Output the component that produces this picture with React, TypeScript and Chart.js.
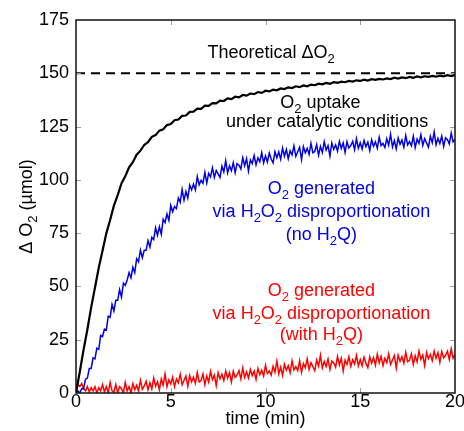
import { useEffect, useRef } from "react";
import { Chart, registerables } from "chart.js";

Chart.register(...registerables);

// ---- axis ranges / ticks ----
const X_MIN = 0;
const X_MAX = 20;
const X_STEP = 5;
const Y_MIN = 0;
const Y_MAX = 175;
const Y_STEP = 25;

// sampling intervals of the recorded traces (min)
const BLACK_DT = 0.2;
const COLOR_DT = 0.1;

// O2 uptake under catalytic conditions (µmol), every 0.2 min from 0 to 20
const uptakeCatalytic = [
  0, 10, 20.3, 29.8, 40.2, 49.4, 58.8, 66.7, 74.9, 81.2,
  87.9, 92.8, 98.3, 101.7, 105.9, 108.3, 111.8, 113.7, 116.4, 117.7,
  120.2, 121.0, 123.1, 123.7, 125.7, 126.2, 128.0, 128.3, 130.0, 130.2,
  131.9, 132.0, 133.4, 133.3, 134.8, 134.7, 136.0, 135.9, 137.2, 137.0,
  138.2, 137.9, 139.0, 138.7, 139.8, 139.5, 140.5, 140.2, 141.2, 140.8,
  141.8, 141.5, 142.3, 142.0, 142.9, 142.6, 143.4, 143.1, 143.9, 143.5,
  144.3, 143.9, 144.7, 144.4, 145.1, 144.8, 145.5, 145.1, 145.8, 145.5,
  146.1, 145.8, 146.4, 146.1, 146.7, 146.4, 147.0, 146.6, 147.2, 146.9,
  147.4, 147.1, 147.6, 147.3, 147.9, 147.5, 148.1, 147.7, 148.3, 147.9,
  148.5, 148.1, 148.6, 148.3, 148.8, 148.4, 148.9, 148.6, 149.1, 148.7,
  149.2,
];

// O2 generated via H2O2 disproportionation, no H2Q (µmol), every 0.1 min
const generatedNoH2Q = [
  0, 1, 0, 2, 2, 6.5, 7, 11.5, 11.5, 16.5,
  16, 21, 20.5, 27, 26.5, 30, 29.5, 36, 35.5, 41.5,
  38.5, 43.5, 43.5, 48.5, 45, 51.5, 50.5, 53, 56.5, 54,
  59, 56.5, 63, 61.5, 67, 63.5, 67, 67, 71.5, 68.5,
  73, 72, 77.5, 74, 78, 74.5, 81.5, 80, 84, 81,
  88, 85, 87.5, 86.5, 91.5, 89.5, 95.5, 90.5, 94.5, 91.5,
  97.5, 95.3, 98, 95.3, 101.5, 97.7, 99.8, 98.4, 103.5, 98.5,
  103, 101.4, 105.7, 101.1, 104.4, 102.8, 101.1, 106.4, 103.7, 109,
  103.3, 106.6, 104.3, 108.1, 103.4, 107.6, 106.9, 105.1, 110.4, 106.6,
  109.9, 104.1, 109.4, 107.6, 111.4, 107.1, 110.3, 108.5, 112.8, 108,
  111.2, 108.4, 112.6, 109.8, 108, 113.2, 110.4, 113.1, 109.7, 114.9,
  111.1, 114.3, 109.9, 113.6, 111.7, 115.9, 111, 113.2, 115.3, 109.5,
  115.6, 112.7, 114.8, 112, 117.1, 112.7, 113.3, 116.5, 111.6, 115.7,
  112.8, 117.9, 114, 116.1, 111.2, 117.3, 114.3, 116.4, 113.5, 118.1,
  114.7, 117.3, 112.9, 117.9, 115, 116.1, 118.1, 114.2, 119.3, 114.8,
  117.4, 114.5, 118.5, 115.6, 117.7, 113.7, 118.8, 115.8, 117.9, 114.9,
  120, 116.1, 117.1, 115.2, 119.3, 116.3, 121.4, 115.4, 118.5, 114.5,
  119.6, 116.7, 118.7, 115.3, 120.8, 116.4, 117.9, 116, 120.5, 115.1,
  119.1, 117.1, 121.2, 116.2, 119.3, 117.3, 115.3, 120.4, 117.4, 122.5,
  116.5, 119.5, 117.1, 120.6, 115.7, 119.7, 118.8, 116.8, 121.9, 117.9,
  119,
];

// O2 generated via H2O2 disproportionation, with H2Q (µmol), every 0.1 min
const generatedWithH2Q = [
  1, 4, 3, 4.5, 2, 1, 3, 0.5, 2.5, 1,
  3, 0, 2.5, 1, 4, 0.5, 3, 0, 5, 1,
  0.5, 4, 0, 3, 2, 0, 5, 1, 3, 0,
  4.3, 1.5, 3.7, 0.9, 6, 1.7, 3.3, 5.5, 1.6, 4.8,
  1.9, 7, 3.2, 5.3, 1.5, 6.6, 3.7, 8.9, 3, 6.2,
  4.3, 7.4, 3, 6.6, 4.7, 8.8, 3.9, 6, 8, 3.1,
  8.2, 5.3, 7.4, 4.5, 9.6, 5.2, 5.8, 8.9, 3.9, 8,
  5.1, 10.2, 6.3, 8.4, 3.5, 9.6, 6.7, 8.8, 5.8, 10.4,
  7, 9.6, 5.2, 10.2, 7.3, 8.4, 10.5, 6.6, 11.7, 7.3,
  9.9, 7, 11.1, 8.2, 10.3, 6.4, 11.5, 8.6, 10.7, 7.9,
  13, 9.1, 10.3, 8.4, 12.6, 9.7, 14.9, 9, 12.2, 8.3,
  13.5, 10.7, 12.8, 9.5, 15.1, 10.8, 12.4, 10.5, 15.1, 9.7,
  13.8, 11.9, 16, 11.1, 14.2, 12.3, 10.4, 15.5, 12.6, 17.7,
  11.8, 14.8, 12.4, 15.9, 11, 15, 14.1, 12.1, 17.2, 13.2,
  16.3, 10.3, 15.4, 13.4, 17, 12.5, 15.6, 13.6, 17.7, 12.7,
  15.7, 12.8, 16.8, 13.9, 11.9, 17, 14, 16.6, 13.1, 18.2,
  14.2, 17.2, 12.8, 16.3, 14.3, 18.4, 13.4, 15.5, 17.6, 11.7,
  17.8, 14.9, 17, 14, 19.1, 14.7, 15.3, 18.4, 13.4, 17.5,
  14.6, 19.7, 15.8, 17.8, 12.9, 19, 16.1, 18.1, 15.2, 19.7,
  16.3, 18.9, 14.4, 19.5, 16.5, 17.6, 19.6, 15.7, 20.7, 16.3,
  18,
];

// theoretical ΔO2 (µmol)
const theoreticalO2 = 150;

// ---- text ----
type Seg = { t: string; sub?: boolean };
type Note = { segs: Seg[]; x: number; y: number; color: string };

const BLUE = "rgb(0,0,230)";
const RED = "rgb(255,0,0)";
const BLACK = "#000";

const notes: Note[] = [
  { segs: [{ t: "Theoretical ΔO" }, { t: "2", sub: true }], x: 10.3, y: 157.2, color: BLACK },
  { segs: [{ t: "O" }, { t: "2", sub: true }, { t: " uptake" }], x: 12.9, y: 133.7, color: BLACK },
  { segs: [{ t: "under catalytic conditions" }], x: 13.25, y: 124.8, color: BLACK },
  { segs: [{ t: "O" }, { t: "2", sub: true }, { t: " generated" }], x: 12.95, y: 93.4, color: BLUE },
  { segs: [{ t: "via H" }, { t: "2", sub: true }, { t: "O" }, { t: "2", sub: true }, { t: " disproportionation" }], x: 12.95, y: 82.6, color: BLUE },
  { segs: [{ t: "(no H" }, { t: "2", sub: true }, { t: "Q)" }], x: 12.95, y: 71.8, color: BLUE },
  { segs: [{ t: "O" }, { t: "2", sub: true }, { t: " generated" }], x: 12.95, y: 45.5, color: RED },
  { segs: [{ t: "via H" }, { t: "2", sub: true }, { t: "O" }, { t: "2", sub: true }, { t: " disproportionation" }], x: 12.95, y: 34.7, color: RED },
  { segs: [{ t: "(with H" }, { t: "2", sub: true }, { t: "Q)" }], x: 12.95, y: 24.9, color: RED },
];

const xTitle: Seg[] = [{ t: "time (min)" }];
const yTitle: Seg[] = [{ t: "Δ O" }, { t: "2", sub: true }, { t: " (µmol)" }];

const FONT = '"Liberation Sans", Arial, Helvetica, sans-serif';
const SIZE = 18;
const SUB_SIZE = 13;

function segWidth(ctx: CanvasRenderingContext2D, segs: Seg[]) {
  let w = 0;
  for (const s of segs) {
    ctx.font = `${s.sub ? SUB_SIZE : SIZE}px ${FONT}`;
    w += ctx.measureText(s.t).width;
  }
  return w;
}

function drawSegs(ctx: CanvasRenderingContext2D, segs: Seg[], cx: number, baseline: number) {
  const w = segWidth(ctx, segs);
  let x = cx - w / 2;
  ctx.textAlign = "left";
  ctx.textBaseline = "alphabetic";
  for (const s of segs) {
    ctx.font = `${s.sub ? SUB_SIZE : SIZE}px ${FONT}`;
    ctx.fillText(s.t, x, s.sub ? baseline + 5 : baseline);
    x += ctx.measureText(s.t).width;
  }
}

const toXY = (arr: number[], dt: number) => arr.map((v, i) => ({ x: i * dt, y: v }));

const framePlugin = {
  id: "frameAndNotes",
  afterDatasetsDraw(chart: any) {
    const { ctx, chartArea: a, scales } = chart;
    const xs = scales.x;
    const ys = scales.y;
    ctx.save();
    // inner ticks
    ctx.strokeStyle = "#a0a0a0";
    ctx.lineWidth = 1;
    const TL = 5;
    ctx.beginPath();
    for (let v = X_MIN + X_STEP; v < X_MAX; v += X_STEP) {
      const px = Math.round(xs.getPixelForValue(v)) + 0.5;
      ctx.moveTo(px, a.bottom);
      ctx.lineTo(px, a.bottom - TL);
      ctx.moveTo(px, a.top);
      ctx.lineTo(px, a.top + TL);
    }
    for (let v = Y_MIN + Y_STEP; v < Y_MAX; v += Y_STEP) {
      const py = Math.round(ys.getPixelForValue(v)) + 0.5;
      ctx.moveTo(a.left, py);
      ctx.lineTo(a.left + TL, py);
      ctx.moveTo(a.right, py);
      ctx.lineTo(a.right - TL, py);
    }
    ctx.stroke();
    // frame
    ctx.strokeStyle = "#111";
    ctx.lineWidth = 1.5;
    ctx.strokeRect(a.left, a.top, a.right - a.left, a.bottom - a.top);

    // annotations
    for (const n of notes) {
      ctx.fillStyle = n.color;
      drawSegs(ctx, n.segs, xs.getPixelForValue(n.x), ys.getPixelForValue(n.y));
    }
    // axis titles
    ctx.fillStyle = "#000";
    drawSegs(ctx, xTitle, (a.left + a.right) / 2, 424);
    ctx.save();
    ctx.translate(32, (a.top + a.bottom) / 2);
    ctx.rotate(-Math.PI / 2);
    drawSegs(ctx, yTitle, 0, 0);
    ctx.restore();
    ctx.restore();
  },
};

export default function App() {
  const ref = useRef<HTMLCanvasElement>(null);
  useEffect(() => {
    document.body.style.margin = "0";
    const chart = new Chart(ref.current as HTMLCanvasElement, {
      type: "line",
      data: {
        datasets: [
          {
            label: "Theoretical ΔO2",
            data: [
              { x: X_MIN, y: theoreticalO2 },
              { x: X_MAX, y: theoreticalO2 },
            ],
            borderColor: "#000",
            borderWidth: 2,
            borderDash: [9, 6],
            pointRadius: 0,
            order: 4,
          },
          {
            label: "O2 generated (with H2Q)",
            data: toXY(generatedWithH2Q, COLOR_DT),
            borderColor: RED,
            borderWidth: 1.5,
            pointRadius: 0,
            order: 3,
          },
          {
            label: "O2 generated (no H2Q)",
            data: toXY(generatedNoH2Q, COLOR_DT),
            borderColor: BLUE,
            borderWidth: 1.5,
            pointRadius: 0,
            order: 2,
          },
          {
            label: "O2 uptake under catalytic conditions",
            data: toXY(uptakeCatalytic, BLACK_DT),
            borderColor: "#000",
            borderWidth: 2.2,
            pointRadius: 0,
            order: 1,
          },
        ],
      },
      options: {
        responsive: false,
        animation: false,
        layout: { padding: { top: 20, right: 9, bottom: 0, left: 0 } },
        plugins: { legend: { display: false }, tooltip: { enabled: false } },
        scales: {
          x: {
            type: "linear",
            min: X_MIN,
            max: X_MAX,
            grid: { display: false, drawTicks: false },
            border: { display: false },
            ticks: {
              stepSize: X_STEP,
              color: "#000",
              font: { family: FONT, size: SIZE, lineHeight: 1 },
              padding: 0,
              maxRotation: 0,
              autoSkip: false,
            },
            afterFit(s: any) {
              s.height = 38;
              s.paddingLeft = 0;
              s.paddingRight = 0;
            },
          },
          y: {
            type: "linear",
            min: Y_MIN,
            max: Y_MAX,
            grid: { display: false, drawTicks: false },
            border: { display: false },
            ticks: {
              stepSize: Y_STEP,
              color: "#000",
              font: { family: FONT, size: SIZE, lineHeight: 1 },
              padding: 7,
              autoSkip: false,
            },
            afterFit(s: any) {
              s.width = 76;
              s.paddingTop = 0;
              s.paddingBottom = 0;
            },
          },
        },
      },
      plugins: [framePlugin],
    });
    return () => chart.destroy();
  }, []);
  return (
    <div style={{ width: 464, height: 431 }}>
      <canvas ref={ref} width={464} height={431} style={{ display: "block" }} />
    </div>
  );
}
